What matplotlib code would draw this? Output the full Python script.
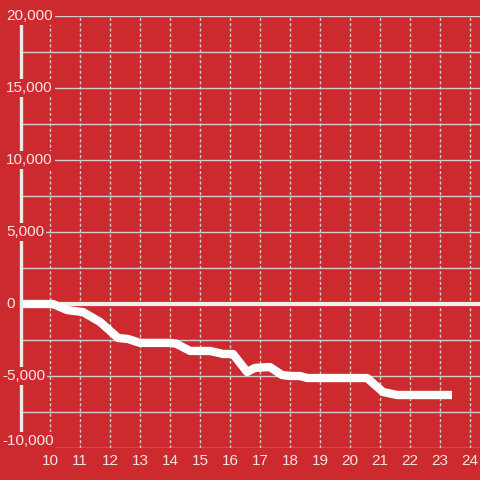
import matplotlib
matplotlib.use("Agg")
import matplotlib.pyplot as plt

plt.rcParams['font.family'] = ['Liberation Sans', 'DejaVu Sans']

hours = [9.0, 10.0, 10.1, 10.57, 11.1, 11.67, 12.27, 12.6, 13.0, 14.0, 14.2, 14.67,
         15.33, 15.77, 16.1, 16.57, 16.83, 17.33, 17.73, 18.0, 18.33, 18.57, 20.57,
         21.1, 21.57, 23.4]
values = [0, 0, 0, -420, -560, -1250, -2360, -2430, -2700, -2700, -2750, -3260,
          -3260, -3470, -3470, -4720, -4440, -4375, -4930, -5000, -5000, -5140, -5140,
          -6110, -6320, -6320]

x_ticks = list(range(10, 25))
y_ticks = list(range(-10000, 20001, 2500))
y_labels = {v: f"{v:,}" for v in range(-10000, 20001, 5000)}

bg = '#cd2a30'
grid_c = '#d2cccc'
txt_c = '#f6e4e4'

fig = plt.figure(figsize=(4.8, 4.8), dpi=100, facecolor=bg)
ax = fig.add_axes([20/480, 32/480, 460/480, 432/480])
ax.set_facecolor(bg)
ax.set_xlim(9, 9 + 460/30)
ax.set_ylim(-10000, 20000)
for s in ax.spines.values():
    s.set_visible(False)
ax.set_xticks([]); ax.set_yticks([])

for v in y_ticks:
    ax.axhline(v, color=grid_c, lw=1.0, zorder=1)
for h in x_ticks:
    ax.plot([h, h], [-10000, 20000], color=grid_c, lw=1.0, ls=(0, (2.2, 1.6)), zorder=1)

# zero line
ax.axhline(0, color='#f4eeee', lw=3, zorder=2)

for v, lab in y_labels.items():
    xpx = 2 if v < 0 else 6
    ypx = ax.transData.transform((9, v))[1]
    if v == -10000:
        ypx += 7
    fig.text(xpx/480, ypx/480, lab, ha='left', va='center',
             color=txt_c, fontsize=11, zorder=5,
             bbox=dict(facecolor=bg, edgecolor='none', pad=1.5))
for h in x_ticks:
    ax.text(h, -10900, str(h), ha='center', va='center', color=txt_c, fontsize=11,
            zorder=7, clip_on=False)

# left axis line (drawn on figure so labels can cover it)
fig.add_artist(plt.Line2D([20.5/480, 20.5/480], [32/480, 456/480], color='#f0eaea', lw=2.4,
                          zorder=3, solid_capstyle='butt'))

ax.plot(hours, values, color='white', lw=6, zorder=6, solid_joinstyle='round',
        solid_capstyle='butt')

fig.savefig('out.png', dpi=100, facecolor=bg)
